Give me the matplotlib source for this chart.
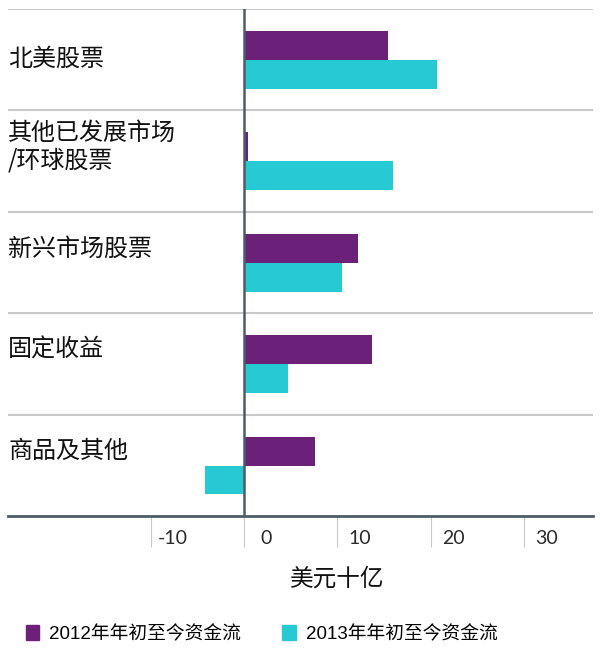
import numpy as np
import matplotlib
matplotlib.use("Agg")
import matplotlib.pyplot as plt
import matplotlib.transforms as mtransforms
from matplotlib.patches import Patch

plt.rcParams['font.family'] = ['Noto Sans CJK SC', 'DejaVu Sans']

categories = ["北美股票", "其他已发展市场\n/环球股票", "新兴市场股票", "固定收益", "商品及其他"]
flow_2012 = [15.4, 0.4, 12.2, 13.7, 7.6]
flow_2013 = [20.7, 16.0, 10.5, 4.7, -4.2]
series_names = ["2012年年初至今资金流", "2013年年初至今资金流"]
tick_values = [-10, 0, 10, 20, 30]
x_label = "美元十亿"

purple = "#6b2177"
teal = "#27cad3"
slate = "#4d5d68"
grid_gray = "#c8c8c8"

fig = plt.figure(figsize=(6, 6.6), dpi=100)
ax = fig.add_axes([8 / 600, 1 - 516 / 660, 585 / 600, 507 / 660])

pos = np.arange(len(categories))
bar_h = 0.285
ax.barh(pos + 0.36, flow_2012, height=bar_h, color=purple)
ax.barh(pos + 0.645, flow_2013, height=bar_h, color=teal)

ax.set_xlim(-25.3, 37.4)
ax.set_ylim(len(categories), 0)

# group separators
for i in range(len(categories)):
    ax.axhline(i, color=grid_gray, lw=1.5, zorder=0)
ax.axvline(0, color=slate, lw=1.8, zorder=3)

for s in ["top", "right", "left"]:
    ax.spines[s].set_visible(False)
ax.spines["bottom"].set_color(slate)
ax.spines["bottom"].set_linewidth(2)

ax.set_yticks([])
ax.set_xticks(tick_values)
ax.set_xticklabels([])
ax.tick_params(axis="x", direction="out", length=22, width=0.8, color=grid_gray)

trans = mtransforms.blended_transform_factory(ax.transData, ax.transAxes)
for t in tick_values:
    ax.text(t + 2.4, -0.045, str(t), transform=trans, ha="center", va="center",
            fontsize=14, color="#2a2a2a", family=["Lato", "DejaVu Sans"])

ax.text(10, -0.125, x_label, transform=trans, ha="center", va="center",
        fontsize=17, color="#111111")

# category labels
for i, name in enumerate(categories):
    y = i + (0.49 if i == 0 else 0.36)
    ax.text(-25.3, y, name, ha="left", va="center", fontsize=17.3,
            color="#111111", linespacing=1.1)

handles = [Patch(color=purple), Patch(color=teal)]
fig.legend(handles, series_names, loc="center left", bbox_to_anchor=(0.015, 1 - 634 / 660),
           ncol=2, frameon=False, handlelength=0.7, handleheight=0.9,
           handletextpad=0.55, columnspacing=2.2,
           prop={"family": ["Liberation Sans", "Noto Sans CJK SC"], "size": 13.5})

fig.savefig("out.png", dpi=100)
